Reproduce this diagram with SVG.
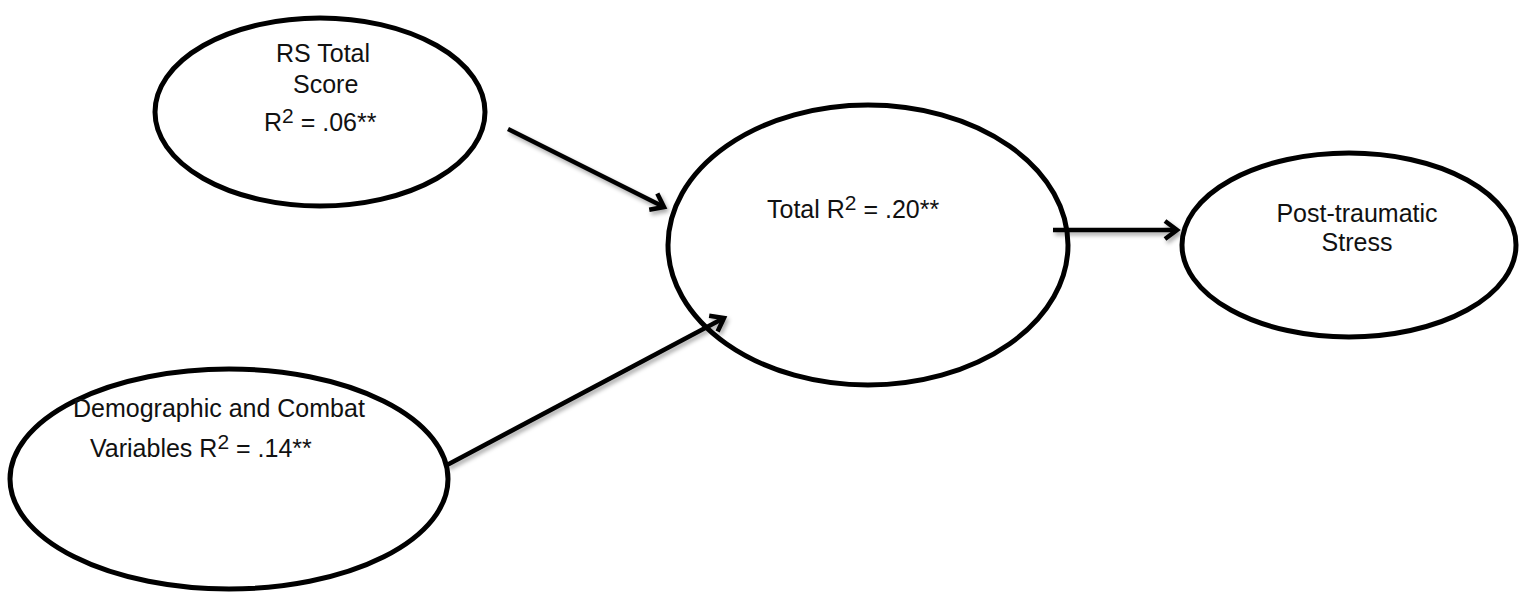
<svg xmlns="http://www.w3.org/2000/svg" width="1519" height="592" viewBox="0 0 1519 592">
<style>
.node{fill:#fff;stroke:#000;stroke-width:5}
.lbl{font-family:"Liberation Sans",Arial,sans-serif;font-size:25px;fill:#111}
.sup{font-size:21px}
.conn{stroke:#000;stroke-width:4.5;fill:none;marker-end:url(#arr);filter:url(#sh)}
</style>
<defs>
<marker id="arr" markerUnits="userSpaceOnUse" markerWidth="30" markerHeight="30" refX="20" refY="10" orient="auto" viewBox="0 0 30 20">
<path d="M8,1 L20,10 L8,19" fill="none" stroke="#000" stroke-width="4.5"/>
</marker>
<filter id="sh" filterUnits="userSpaceOnUse" x="0" y="0" width="1519" height="592">
<feDropShadow dx="2" dy="3" stdDeviation="2" flood-color="#000" flood-opacity="0.35"/>
</filter>
</defs>
<g id="node-rs">
<ellipse class="node" cx="320" cy="112" rx="165" ry="94"/>
<text class="lbl" x="276" y="62">RS Total</text>
<text class="lbl" x="293" y="93">Score</text>
<text class="lbl" x="264" y="131">R<tspan class="sup" dy="-8">2</tspan><tspan dy="8"> = .06**</tspan></text>
</g>
<g id="node-demo">
<ellipse class="node" cx="229" cy="479" rx="219" ry="110"/>
<text class="lbl" x="73" y="417">Demographic and Combat</text>
<text class="lbl" x="90" y="457">Variables R<tspan class="sup" dy="-8">2</tspan><tspan dy="8"> = .14**</tspan></text>
</g>
<g id="node-total">
<ellipse class="node" cx="868" cy="245" rx="200" ry="140"/>
<text class="lbl" x="767" y="218">Total R<tspan class="sup" dy="-8">2</tspan><tspan dy="8">  = .20**</tspan></text>
</g>
<g id="node-pts">
<ellipse class="node" cx="1349" cy="245" rx="167" ry="92"/>
<text class="lbl" x="1357" y="222" text-anchor="middle">Post-traumatic</text>
<text class="lbl" x="1357" y="251" text-anchor="middle">Stress</text>
</g>
<g id="connectors">
<line class="conn" x1="508" y1="129" x2="664" y2="207"/>
<line class="conn" x1="447" y1="465" x2="724" y2="318"/>
<line class="conn" x1="1053" y1="230" x2="1177" y2="230"/>
</g>
</svg>
